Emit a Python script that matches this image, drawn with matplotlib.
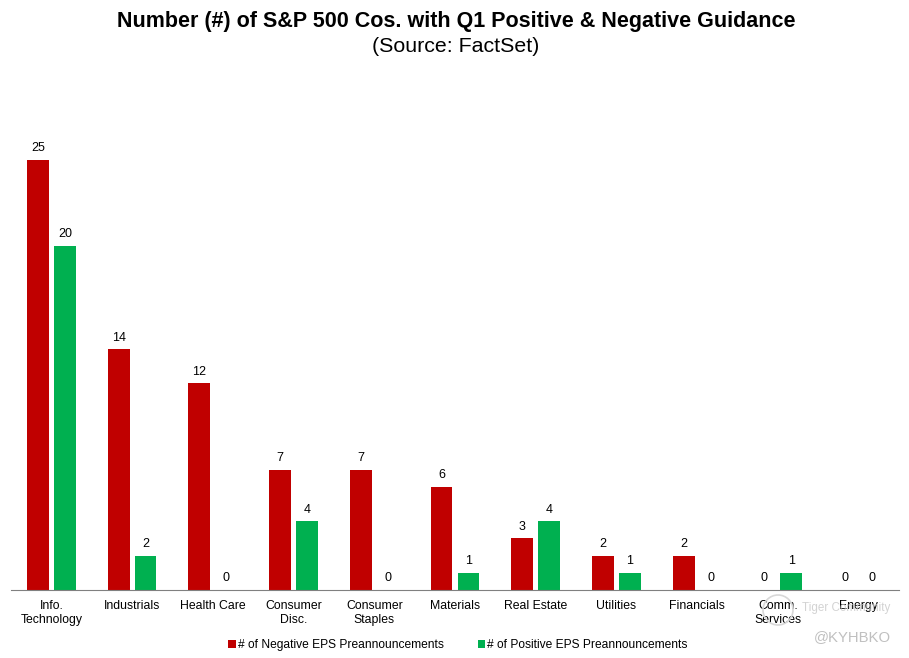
import numpy as np
from matplotlib import pyplot as plt
from matplotlib.patches import Circle

categories = ["Info.\nTechnology", "Industrials", "Health Care", "Consumer\nDisc.", "Consumer\nStaples",
              "Materials", "Real Estate", "Utilities", "Financials", "Comm.\nServices", "Energy"]
negative = [25, 14, 12, 7, 7, 6, 3, 2, 2, 0, 0]
positive = [20, 2, 0, 4, 0, 1, 4, 1, 0, 1, 0]

RED = "#C00000"
GREEN = "#00B050"

plt.rcParams['font.family'] = ['Liberation Sans', 'DejaVu Sans']

fig = plt.figure(figsize=(9.09, 6.58), dpi=100)
ax = fig.add_axes([11/909, 1-590/658, (899-11)/909, (590-72)/658])

x = np.arange(len(categories))
width = 0.27
bars1 = ax.bar(x-0.167, negative, width, color=RED, label="# of Negative EPS Preannouncements")
bars2 = ax.bar(x+0.167, positive, width, color=GREEN, label="# of Positive EPS Preannouncements")

for bars in (bars1, bars2):
    for b in bars:
        ax.annotate(str(int(b.get_height())), (b.get_x()+b.get_width()/2, b.get_height()),
                    xytext=(0, 4), textcoords="offset points", ha="center", va="bottom", fontsize=9)

ax.set_xlim(-0.5, 10.5)
ax.set_ylim(0, 30.1)
ax.set_xticks(x)
ax.set_xticklabels(categories, fontsize=8.8, linespacing=1.2)
ax.tick_params(axis="x", length=0, pad=7.5)
ax.set_yticks([])
for s in ("top", "left", "right"):
    ax.spines[s].set_visible(False)
ax.spines["bottom"].set_color("#808080")
ax.spines["bottom"].set_linewidth(0.8)

fig.text(456/909, 1-21/658, "Number (#) of S&P 500 Cos. with Q1 Positive & Negative Guidance",
         ha="center", va="center", fontsize=15.5, fontweight="bold")
fig.text(456/909, 1-46/658, "(Source: FactSet)", ha="center", va="center", fontsize=15.4)

fig.legend(loc="center", bbox_to_anchor=(458/909, 1-645/658), ncol=2, frameon=False, fontsize=8.65,
           handlelength=0.6, handleheight=0.6, handletextpad=0.2, columnspacing=2.8)

# watermarks
fig.add_artist(Circle((7.78, 6.58-6.10), 0.15, transform=fig.dpi_scale_trans, fill=False, ec="#d8d8d8", lw=1.2))
fig.text(802/909, 1-608/658, "Tiger Community", ha="left", va="center", fontsize=8.4, color="#c8c8c8", alpha=0.8)
fig.text(852/909, 1-637/658, "@KYHBKO", ha="center", va="center", fontsize=10.7, color="#c0c0c0")

fig.savefig("out.png", dpi=100)
